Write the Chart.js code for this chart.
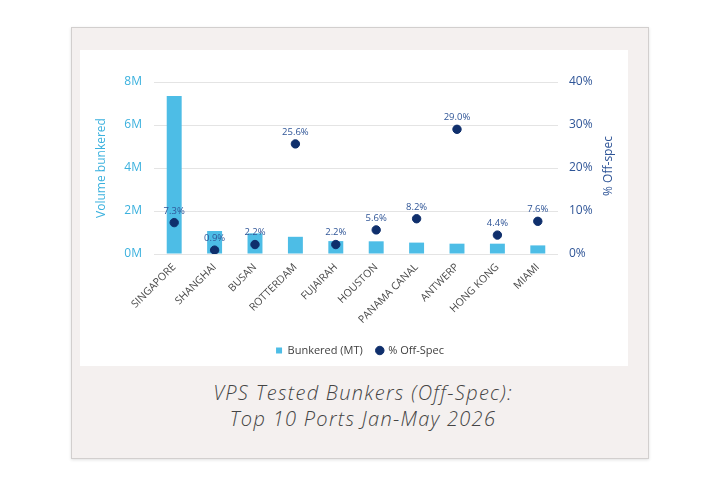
<!DOCTYPE html>
<html>
<head>
<meta charset="utf-8">
<script src="https://cdn.jsdelivr.net/npm/chart.js@4.4.1/dist/chart.umd.min.js"></script>
<style>
  html, body { margin: 0; padding: 0; background: #ffffff; }
  body { width: 702px; height: 490px; position: relative; overflow: hidden; font-family: "Open Sans", sans-serif; }
  #card { position: absolute; left: 71px; top: 27px; width: 576px; height: 430px; background: #f4f0ef; border: 1px solid #d2cfce; box-shadow: 0 1px 3px rgba(0,0,0,0.12); }
  #panel { position: absolute; left: 8px; top: 22px; width: 548px; height: 316px; background: #ffffff; }
  #title { position: absolute; left: 0; top: 352px; width: 582px; text-align: center; font-family: "Open Sans", sans-serif; font-style: italic; font-weight: 300; font-size: 20px; letter-spacing: 1.3px; line-height: 26px; color: #444444; }
</style>
</head>
<body>
<div id="card">
  <div id="panel"><canvas id="c" width="548" height="316"></canvas></div>
  <div id="title">VPS Tested Bunkers (Off-Spec):<br>Top 10 Ports Jan-May 2026</div>
</div>
<script>
const ports = ["SINGAPORE", "SHANGHAI", "BUSAN", "ROTTERDAM", "FUJAIRAH", "HOUSTON", "PANAMA CANAL", "ANTWERP", "HONG KONG", "MIAMI"];
const bunkeredMT = [7350000, 1070000, 960000, 800000, 600000, 590000, 530000, 480000, 480000, 400000];
const offSpecPct = [7.3, 0.9, 2.2, 25.6, 2.2, 5.6, 8.2, 29.0, 4.4, 7.6];
const leftTicks = ["0M", "2M", "4M", "6M", "8M"];
const rightTicks = ["0%", "10%", "20%", "30%", "40%"];
const leftTitle = "Volume bunkered";
const rightTitle = "% Off-spec";

const LIGHT = "#4dbde6";
const NAVY = "#0f2f6c";
const AXISBLUE = "#3bb1de";
const RIGHTBLUE = "#2f5597";
const FONT = "'Open Sans', sans-serif";

const extras = {
  id: "extras",
  afterDatasetsDraw(chart) {
    const ctx = chart.ctx;
    const meta = chart.getDatasetMeta(1);
    const area = chart.chartArea;
    ctx.save();
    ctx.font = "9.5px " + FONT;
    ctx.fillStyle = RIGHTBLUE;
    ctx.textAlign = "center";
    ctx.textBaseline = "bottom";
    meta.data.forEach((pt, i) => {
      ctx.fillText(offSpecPct[i].toFixed(1) + "%", pt.x, pt.y - 7);
    });
    const midY = (area.top + area.bottom) / 2;
    ctx.font = "12px " + FONT;
    ctx.textBaseline = "middle";
    ctx.save();
    ctx.translate(22, midY);
    ctx.rotate(-Math.PI / 2);
    ctx.fillStyle = AXISBLUE;
    ctx.fillText(leftTitle, 0, 0);
    ctx.restore();
    ctx.save();
    ctx.translate(529, midY - 2);
    ctx.rotate(-Math.PI / 2);
    ctx.fillStyle = RIGHTBLUE;
    ctx.fillText(rightTitle, 0, 0);
    ctx.restore();
    ctx.restore();
  }
};

new Chart(document.getElementById("c"), {
  type: "bar",
  data: {
    labels: ports,
    datasets: [
      {
        type: "bar",
        label: "Bunkered (MT)",
        data: bunkeredMT,
        backgroundColor: LIGHT,
        yAxisID: "y",
        barPercentage: 0.37,
        categoryPercentage: 1.0,
        order: 2,
        pointStyle: "rect"
      },
      {
        type: "line",
        label: "% Off-Spec",
        data: offSpecPct,
        yAxisID: "y1",
        showLine: false,
        pointRadius: 4.2,
        pointHoverRadius: 4.2,
        pointBackgroundColor: NAVY,
        pointBorderColor: NAVY,
        backgroundColor: NAVY,
        borderColor: NAVY,
        order: 1,
        pointStyle: "circle"
      }
    ]
  },
  options: {
    responsive: false,
    animation: false,
    devicePixelRatio: 1,
    layout: { padding: { top: 32, left: 12, right: 0, bottom: 0 } },
    plugins: {
      tooltip: { enabled: false },
      legend: {
        position: "bottom",
        labels: {
          usePointStyle: true,
          boxWidth: 6,
          boxHeight: 6,
          padding: 14,
          color: "#404040",
          font: { family: FONT, size: 11 },
          sort: (a, b) => a.datasetIndex - b.datasetIndex
        }
      }
    },
    scales: {
      x: {
        grid: { display: false, drawTicks: false },
        border: { display: false },
        ticks: {
          maxRotation: 45,
          minRotation: 45,
          color: "#4a4a4a",
          padding: 7,
          font: { family: FONT, size: 10.5 }
        },
        afterFit(s) { s.height = 77; }
      },
      y: {
        position: "left",
        min: 0, max: 8000000,
        grid: { color: "#e4e4e4", drawTicks: false },
        border: { display: false },
        ticks: {
          stepSize: 2000000,
          padding: 12,
          color: AXISBLUE,
          font: { family: FONT, size: 12 },
          callback: (v, i) => leftTicks[i]
        },
        afterFit(s) { s.width = 62; }
      },
      y1: {
        position: "right",
        min: 0, max: 40,
        grid: { display: false, drawTicks: false },
        border: { display: false },
        ticks: {
          stepSize: 10,
          padding: 11,
          color: RIGHTBLUE,
          font: { family: FONT, size: 12 },
          callback: (v, i) => rightTicks[i]
        },
        afterFit(s) { s.width = 70; }
      }
    }
  },
  plugins: [extras]
});
</script>
</body>
</html>
